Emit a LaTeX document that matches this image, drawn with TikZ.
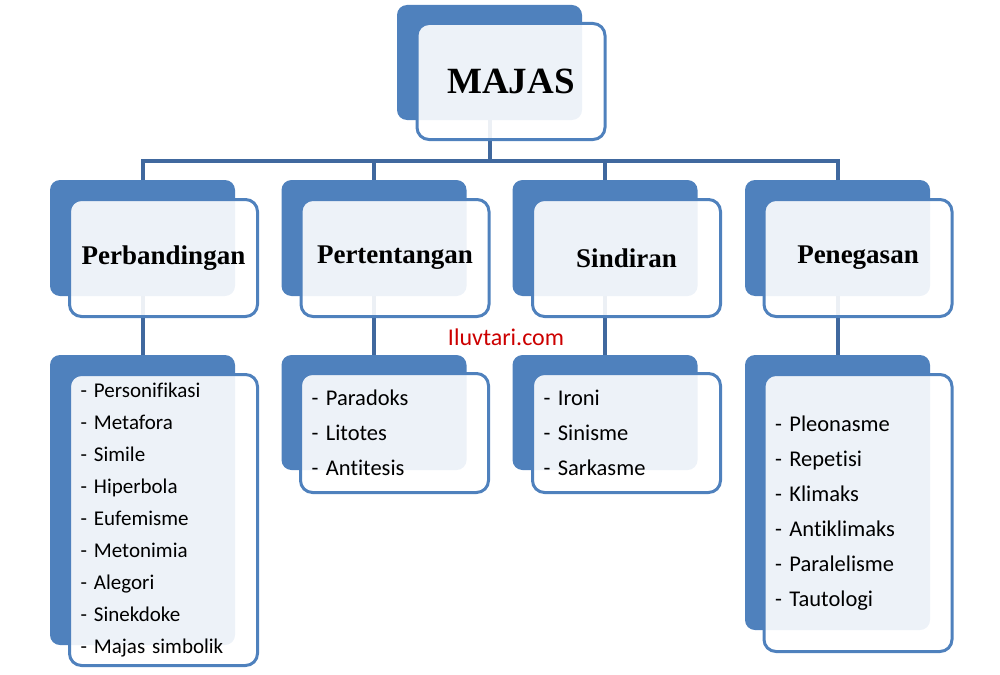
\documentclass[tikz,border=0pt]{standalone}
\usepackage{fontspec}
\setmainfont{Liberation Serif}
\newfontfamily\listfont{Carlito}[Ligatures=NoCommon]
\definecolor{myblue}{RGB}{79,129,189}
\definecolor{mylink}{RGB}{64,104,158}
\definecolor{mywatermark}{RGB}{204,0,0}

\begin{document}
\begin{tikzpicture}[x=1pt,y=-1pt,
  backbox/.style={fill=myblue,rounded corners=10pt,inner sep=0pt,outer sep=0pt,minimum width=185pt},
  frontbox/.style={draw=myblue,line width=3pt,fill=white,fill opacity=0.9,text opacity=1,rounded corners=12pt,inner sep=0pt,outer sep=0pt,minimum width=188pt},
  titlebox/.style={frontbox,minimum height=117pt,font=\fontsize{27}{32}\selectfont\bfseries},
  listbox/.style={frontbox,text width=166pt,inner xsep=11pt,align=left},
  link/.style={mylink,line width=4pt}]
  \useasboundingbox (0,0) rectangle (1000,674);
  % back boxes
  \node[backbox,minimum height=115pt] (majasback) at (489.5,62.5) {};
  \node[backbox,minimum height=116pt] (perbback) at (142.5,238) {};
  \node[backbox,minimum height=116pt] (pertback) at (374,238) {};
  \node[backbox,minimum height=116pt] (sindback) at (605,238) {};
  \node[backbox,minimum height=116pt] (penegback) at (837.5,238) {};
  \node[backbox,minimum height=290pt] (perblistback) at (142.5,500) {};
  \node[backbox,minimum height=115pt] (pertlistback) at (374,412.5) {};
  \node[backbox,minimum height=115pt] (sindlistback) at (605,412.5) {};
  \node[backbox,minimum height=275pt] (peneglistback) at (837.5,492.5) {};
  % connectors
  \coordinate (bus) at (489.5,160.5);
  \draw[link] (majasback.south) -- (bus);
  \foreach \c in {perb,pert,sind,peneg}{
    \draw[link] (bus) -| (\c back.north);
    \draw[link] (\c back.south) -- (\c listback.north);
  }
  % front boxes
  \node[titlebox,minimum height=116pt,font=\fontsize{37}{42}\selectfont\bfseries] (majas) at (511,81.5) {MAJAS};
  \node[titlebox] (perb) at (163.5,258) {Perbandingan};
  \node[titlebox] (pert) at (395,258) {Pertentangan};
  \node[titlebox] (sind) at (626.5,258) {Sindiran};
  \node[titlebox] (peneg) at (858,258) {Penegasan};
  \node[listbox,minimum height=291pt,font=\listfont\fontsize{21}{31.9}\selectfont] (perblist) at (163.5,520)
    {- Personifikasi\\- Metafora\\- Simile\\- Hiperbola\\- Eufemisme\\- Metonimia\\- Alegori\\- Sinekdoke\\- Majas simbolik};
  \node[listbox,minimum height=119pt,font=\listfont\fontsize{22.5}{35}\selectfont] (pertlist) at (394.5,433)
    {- Paradoks\\- Litotes\\- Antitesis};
  \node[listbox,minimum height=119pt,font=\listfont\fontsize{22.5}{35}\selectfont] (sindlist) at (626.5,433)
    {- Ironi\\- Sinisme\\- Sarkasme};
  \node[listbox,minimum height=277pt,font=\listfont\fontsize{22.5}{35}\selectfont] (peneglist) at (858,513)
    {- Pleonasme\\- Repetisi\\- Klimaks\\- Antiklimaks\\- Paralelisme\\- Tautologi};
  \node[font=\listfont\fontsize{24}{28}\selectfont,text=mywatermark] (site) at (506,337) {Iluvtari.com};
\end{tikzpicture}
\end{document}
